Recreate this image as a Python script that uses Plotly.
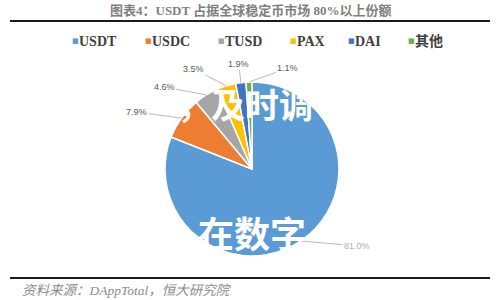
import math
import plotly.graph_objects as go

# ---- data ----
categories = ["USDT", "USDC", "TUSD", "PAX", "DAI", "其他"]
shares = [81.0, 7.9, 4.6, 3.5, 1.9, 1.1]
value_labels = ["81.0%", "7.9%", "4.6%", "3.5%", "1.9%", "1.1%"]
title_text = "图表4：USDT 占据全球稳定币市场 80%以上份额"
source_text = "资料来源：DAppTotal，恒大研究院"

# ---- style ----
colors = ["#5B9BD5", "#ED7D31", "#A5A5A5", "#FFC000", "#4472C4", "#70AD47"]
label_offsets = [(56, 5), (-45, -6), (-42, -8), (-33, -17), (-2, -19), (39, -14)]
label_colors = ["#B0B0B0", "#595959", "#595959", "#595959", "#595959", "#595959"]
legend_x = [70, 143, 216, 288, 346, 406]

W, H = 500, 300
cx, cy_top, R = 252, 169, 87
cy = H - cy_top

fig = go.Figure(go.Pie(
    labels=categories, values=shares, sort=False, direction="clockwise",
    rotation=0, textinfo="none", hoverinfo="label+percent",
    marker=dict(colors=colors, line=dict(color="white", width=1.5)),
    domain=dict(x=[(cx - R) / W, (cx + R) / W], y=[(cy - R) / H, (cy + R) / H]),
    showlegend=False,
))

annotations = []
total = sum(shares)
cum = 0.0
for v, lab, (ax, ay), lc in zip(shares, value_labels, label_offsets, label_colors):
    mid = (cum + v / 2) / total * 2 * math.pi
    cum += v
    px = cx + R * math.sin(mid)
    py = cy + R * math.cos(mid)
    annotations.append(dict(
        x=px / W, y=py / H, xref="paper", yref="paper", text=lab,
        showarrow=True, ax=ax, ay=ay, arrowhead=0, arrowwidth=0.8,
        arrowcolor="#A6A6A6", standoff=0, startstandoff=0,
        font=dict(size=9, color=lc, family="Liberation Sans"),
    ))

def txt(x, y, text, size, color, family, xanchor="center"):
    return dict(x=x / W, y=(H - y) / H, xref="paper", yref="paper", text=text,
                showarrow=False, xanchor=xanchor, yanchor="middle",
                font=dict(size=size, color=color, family=family))

# custom legend
for x, name, col in zip(legend_x, categories, colors):
    annotations.append(txt(x, 41, "■", 7, col, "DejaVu Sans", "left"))
    annotations.append(txt(x + 7, 41, "<b>%s</b>" % name, 14, "#404040",
                           "Liberation Serif, Noto Sans CJK SC", "left"))

# title and source
annotations.append(txt(250, 11, "<b>" + title_text + "</b>", 13, "#7F7F7F",
                       "Liberation Serif, Noto Sans CJK SC"))
annotations.append(txt(20, 290, "<i>" + source_text + "</i>", 13.5, "#8C8C8C",
                       "Liberation Serif, Noto Sans CJK SC", "left"))

# watermark overlays
annotations.append(txt(245, 103, "<b>，及时调</b>", 34, "white", "Noto Sans CJK SC"))
annotations.append(txt(252, 232, "<b>在数字</b>", 36, "white", "Noto Sans CJK SC"))

shapes = [
    dict(type="line", xref="paper", yref="paper", x0=10 / W, x1=490 / W,
         y0=(H - 21) / H, y1=(H - 21) / H, line=dict(color="#1a1a1a", width=2)),
    dict(type="line", xref="paper", yref="paper", x0=10 / W, x1=490 / W,
         y0=(H - 278) / H, y1=(H - 278) / H, line=dict(color="#1a1a1a", width=2)),
]

fig.update_layout(
    width=W, height=H, margin=dict(l=0, r=0, t=0, b=0),
    paper_bgcolor="white", plot_bgcolor="white",
    annotations=annotations, shapes=shapes,
)
fig.write_html("out.html")
